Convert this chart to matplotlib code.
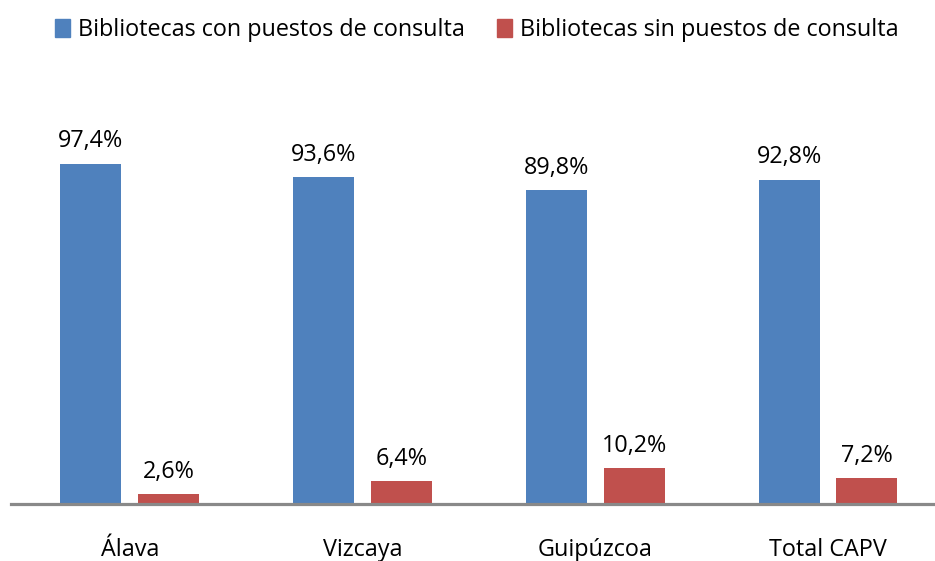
import numpy as np
import matplotlib
matplotlib.use('Agg')
import matplotlib.pyplot as plt
from matplotlib.patches import Patch

# data
categories = ['Álava', 'Vizcaya', 'Guipúzcoa', 'Total CAPV']
con_puestos = [97.4, 93.6, 89.8, 92.8]
sin_puestos = [2.6, 6.4, 10.2, 7.2]
series_names = ['Bibliotecas con puestos de consulta',
                'Bibliotecas sin puestos de consulta']

BLUE = '#4F81BD'
RED = '#C0504D'

plt.rcParams['font.family'] = ['Open Sans', 'DejaVu Sans']

W, H = 935, 561
fig = plt.figure(figsize=(W / 100, H / 100), dpi=100)
# axes placed in pixel terms: baseline at y=503.5 from top, left at x=11
ax = fig.add_axes([11 / W, (H - 503.5) / H, 1.01 - 11 / W, 383.6 / H])

x = np.arange(len(categories))
width = 0.262
off = 0.167
b1 = ax.bar(x - off, con_puestos, width, color=BLUE, zorder=2)
b2 = ax.bar(x + off, sin_puestos, width, color=RED, zorder=2)

for bars, vals in ((b1, con_puestos), (b2, sin_puestos)):
    for rect, v in zip(bars, vals):
        ax.annotate(('%.1f%%' % v).replace('.', ','),
                    (rect.get_x() + rect.get_width() / 2, rect.get_height()),
                    xytext=(0, 7.5), textcoords='offset points',
                    ha='center', va='bottom', fontsize=16.8, color='black')

ax.set_xlim(-0.51, 3.5)
ax.set_ylim(0, 110)
ax.set_xticks(x)
ax.set_xticklabels(categories, fontsize=16.8)
ax.tick_params(axis='x', length=0, pad=25)
ax.set_yticks([])
for s in ('top', 'right', 'left'):
    ax.spines[s].set_visible(False)
ax.spines['bottom'].set_color('#898989')
ax.spines['bottom'].set_linewidth(2.3)
ax.spines['bottom'].set_zorder(3)

handles = [Patch(color=BLUE), Patch(color=RED)]
fig.legend(handles, series_names, loc='center', bbox_to_anchor=(0.51, 1 - 30 / H),
           ncol=2, frameon=False, fontsize=16.8, handlelength=0.64, handleheight=0.8,
           handletextpad=0.34, columnspacing=1.37, borderaxespad=0)

fig.savefig('out.png', dpi=100)
